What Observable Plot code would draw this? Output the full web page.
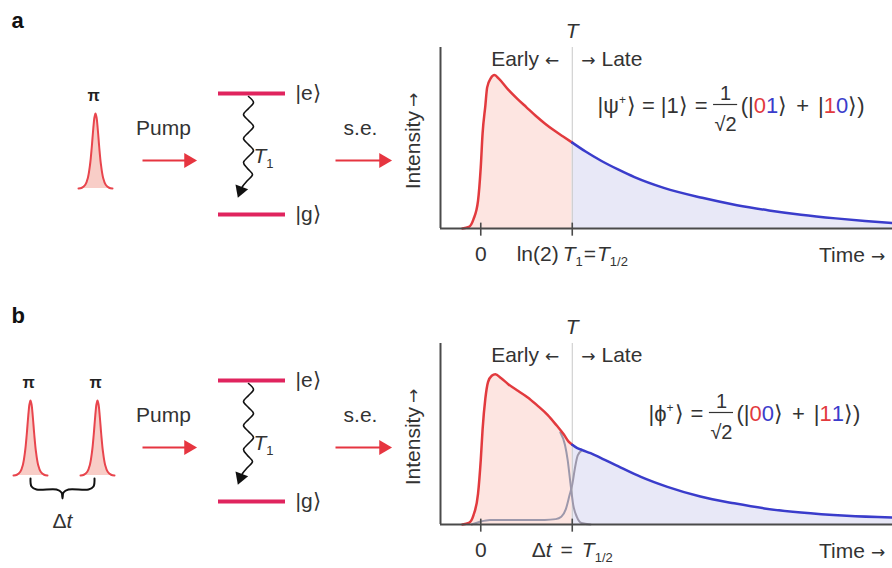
<!DOCTYPE html>
<html><head><meta charset="utf-8">
<script src="https://cdn.jsdelivr.net/npm/d3@7"></script>
<script src="https://cdn.jsdelivr.net/npm/@observablehq/plot@0.6"></script>
<style>
body{margin:0;background:#fff;}
#fig{position:relative;width:892px;height:568px;overflow:hidden;background:#fff;}
#fig > div{position:absolute;}
</style></head><body><div id="fig"></div>
<script>
// ---------- DATA ----------
// Panel a: emission intensity vs time (time in units of T1/2, intensity normalised to peak)
const earlyA = [[-0.2,0],[-0.13,0.01],[-0.08,0.06],[-0.03,0.18],[0.0,0.40],[0.02,0.62],[0.05,0.80],[0.07,0.92],[0.11,0.98],[0.15,1.0],[0.2,0.975],[0.3,0.905],[0.4,0.845],[0.5,0.79],[0.6,0.735],[0.7,0.685],[0.8,0.64],[0.9,0.6],[1.0,0.56]];
const lateA  = [[1.0,0.56],[1.15,0.5],[1.32,0.44],[1.5,0.385],[1.68,0.335],[2.0,0.265],[2.42,0.2],[2.8,0.152],[3.15,0.118],[3.5,0.09],[3.88,0.066],[4.2,0.049],[4.5,0.036]];
// Panel b
const earlyB = [[-0.2,0],[-0.13,0.01],[-0.08,0.06],[-0.03,0.2],[0.0,0.42],[0.02,0.62],[0.05,0.82],[0.08,0.93],[0.12,0.97],[0.16,0.98],[0.22,0.955],[0.3,0.915],[0.41,0.87],[0.51,0.83],[0.62,0.775],[0.73,0.715],[0.83,0.645],[0.91,0.585],[0.96,0.54],[1.0,0.52]];
const lateB  = [[1.0,0.52],[1.05,0.5],[1.11,0.485],[1.2,0.465],[1.31,0.435],[1.5,0.38],[1.75,0.31],[2.04,0.245],[2.4,0.182],[2.77,0.138],[3.1,0.105],[3.5,0.078],[4.0,0.057],[4.5,0.045]];
const earlyTailB = [[0.87,0.6],[0.92,0.52],[0.95,0.42],[0.98,0.27],[1.01,0.13],[1.05,0.05],[1.1,0.01],[1.2,0]];
const lateRiseB  = [[-0.1,0],[0.0,0.02],[0.1,0.03],[0.4,0.03],[0.7,0.03],[0.82,0.035],[0.88,0.05],[0.93,0.1],[0.97,0.19],[1.0,0.26],[1.03,0.37],[1.06,0.45],[1.11,0.485]];
const tickTimes = [0, 1];
// Schematic shapes
const pulseProfile = [[-1,0],[-0.8,0.01],[-0.6,0.05],[-0.45,0.14],[-0.32,0.32],[-0.22,0.55],[-0.13,0.8],[-0.06,0.95],[0,1],[0.06,0.95],[0.13,0.8],[0.22,0.55],[0.32,0.32],[0.45,0.14],[0.6,0.05],[0.8,0.01],[1,0]];
const wavePath = [[0,0],[5,6],[0,12],[-5,18],[0,24],[5,30],[0,36],[-5,42],[0,48],[5,54],[0,60],[-5,66],[-1,72],[4,78],[-1,84],[-6,90],[-8,95]];
const braceShape = [[-32,-11],[-31,-3],[-26,0],[-6,0],[-1,3],[0,9],[1,3],[6,0],[26,0],[31,-3],[32,-11]];

// ---------- STYLE ----------
const FONT = '"Liberation Sans", Arial, sans-serif';
const ARR = '"DejaVu Sans", sans-serif';
const INK = "#333", AXIS = "#4a4a4a";
const RED = "#e23a3e", BLUE = "#3a3ccb", PINK = "#fde5e1", LAV = "#e8e8f7", GRAY = "#9d98ab", LEVEL = "#e0245e", ARROW = "#e63540";
const XMIN = -0.44, XMAX = 4.5, YMAX = 1.18, T = 1;

const ctx = document.createElement("canvas").getContext("2d");
function measure(s, size, italic, family) { ctx.font = `${italic ? "italic " : ""}${size}px ${family || FONT}`; return ctx.measureText(s).width; }
function txt(s, x, y, o = {}) {
  return Plot.text([s], {x, y, dx: o.dx || 0, dy: o.dy || 0, textAnchor: o.anchor || "start", lineAnchor: o.line || "bottom",
    fontSize: o.size || 20, fontStyle: o.italic ? "italic" : "normal", fontWeight: o.weight || "normal", fill: o.fill || INK,
    fontFamily: o.family || FONT, rotate: o.rotate || 0});
}
// lay out a run of text segments (baseline-aligned) starting / centred / ending at (x, y)
function segMarks(segs, x, y, align = "start", base = {}) {
  const items = segs.map(s => s.frac
    ? {...s, w: Math.max(measure(s.num, s.size), measure(s.den, s.size)) + 2}
    : {...s, w: measure(s.t, s.size || base.size || 20, s.italic, s.family)});
  const total = d3.sum(items, d => d.w + (d.gap || 0));
  let off = (base.dx || 0) + (align === "middle" ? -total / 2 : align === "end" ? -total : 0);
  const marks = [];
  for (const s of items) {
    off += s.gap || 0;
    if (s.frac) {
      marks.push(txt(s.num, x, y, {dx: off + s.w / 2, dy: s.numDy, size: s.size, anchor: "middle"}));
      marks.push(txt(s.den, x, y, {dx: off + s.w / 2, dy: s.denDy, size: s.size, anchor: "middle"}));
      marks.push(Plot.ruleY([y + s.barDy], {x1: x + off, x2: x + off + s.w, stroke: INK, strokeWidth: 1.2}));
    } else {
      marks.push(txt(s.t, x, y, {dx: off, dy: (s.dy || 0) + (base.dy || 0), size: s.size || base.size || 20, italic: s.italic, fill: s.fill, family: s.family}));
    }
    off += s.w;
  }
  return marks;
}

// ---------- CHARTS ----------
const SUB = 13;
function chartPlot(cfg) {
  const xy = {x: d => d[0], y: d => d[1], curve: "monotone-x"};
  const wI = measure("Intensity", 21), wA = measure("→", 17, false, ARR), gapI = 4;
  const marks = [
    Plot.areaY(cfg.early, {...xy, fill: PINK}),
    Plot.areaY(cfg.late, {...xy, fill: LAV}),
    Plot.ruleX([T], {y1: 0, y2: YMAX, stroke: "#c8c8c8", strokeWidth: 1}),
    ...cfg.gray.map(g => Plot.line(g, {...xy, stroke: GRAY, strokeWidth: 2})),
    Plot.line(cfg.early, {...xy, stroke: RED, strokeWidth: 2.5}),
    Plot.line(cfg.late, {...xy, stroke: BLUE, strokeWidth: 2.5}),
    Plot.ruleY([0], {x1: XMIN, x2: XMAX, stroke: AXIS, strokeWidth: 2}),
    Plot.ruleX([XMIN], {y1: 0, y2: YMAX, stroke: AXIS, strokeWidth: 2}),
    Plot.ruleX(tickTimes, {y1: -0.05, y2: 0.035, stroke: AXIS, strokeWidth: 1.6}),
    txt("T", T, YMAX, {dy: -10, size: 21, italic: true, anchor: "middle"}),
    ...segMarks([{t: "Early"}, {t: "←", family: ARR, size: 17, gap: 6}], T, YMAX, "end", {dx: -13, dy: 18, size: 21}),
    ...segMarks([{t: "→", family: ARR, size: 17}, {t: "Late", gap: 6}], T, YMAX, "start", {dx: 9, dy: 18, size: 21}),
    txt("Intensity", XMIN, 0.57, {dx: -27, dy: (wA + gapI) / 2, anchor: "middle", line: "middle", rotate: -90, size: 21}),
    txt("→", XMIN, 0.57, {dx: -27, dy: -(wI + gapI) / 2, anchor: "middle", line: "middle", rotate: -90, size: 17, family: ARR}),
    txt("0", 0, 0, {dy: 32, anchor: "middle", size: 21}),
    ...segMarks([{t: "Time"}, {t: "→", family: ARR, size: 17, gap: 6}], 4.42, 0, "end", {dy: 33, size: 21}),
    ...segMarks(cfg.tickSegs, T, 0, "middle", {dy: 32, size: 21})
  ];
  return Plot.plot({width: 497, height: 270, marginLeft: 45, marginRight: 0, marginTop: 47, marginBottom: 42,
    x: {domain: [XMIN, XMAX], axis: null}, y: {domain: [0, YMAX], axis: null},
    style: {background: "transparent", overflow: "visible", fontFamily: FONT}, marks});
}
const tickSegsA = [{t: "ln(2)"}, {t: "T", italic: true, gap: 4}, {t: "1", size: SUB, dy: 5}, {t: "=", gap: 1}, {t: "T", italic: true, gap: 1}, {t: "1/2", size: SUB, dy: 5}];
const tickSegsB = [{t: "Δ"}, {t: "t", italic: true}, {t: "=", gap: 9}, {t: "T", italic: true, gap: 9}, {t: "1/2", size: SUB, dy: 5}];

// ---------- SCHEMATIC + FORMULAS (overlay, pixel units) ----------
const rows = [{oy: 0, pulses: [95]}, {oy: 287, pulses: [30, 97]}];
const ov = [];
ov.push(txt("a", 11, 27, {size: 22, weight: "bold", fill: "#111"}));
ov.push(txt("b", 11, 322, {size: 22, weight: "bold", fill: "#111"}));
for (const r of rows) {
  const oy = r.oy;
  for (const cx of r.pulses) {
    const pts = pulseProfile.map(([u, h]) => ({x: cx + u * 17, y: 188 + oy - h * 75}));
    ov.push(Plot.area(pts, {x1: "x", y1: 188 + oy, y2: "y", fill: "#f8cdc7", curve: "catmull-rom"}));
    ov.push(Plot.line(pts, {x: "x", y: "y", stroke: "#e8454d", strokeWidth: 2, curve: "catmull-rom"}));
    ov.push(txt("π", cx - 2, 95 + oy, {size: 16, anchor: "middle", line: "middle", fill: "#222", weight: "bold"}));
  }
  ov.push(txt("Pump", 163, 128 + oy, {anchor: "middle", line: "middle", size: 21}));
  ov.push(txt("s.e.", 360, 128 + oy, {anchor: "middle", line: "middle", size: 21}));
  for (const [x1, x2] of [[142, 186], [335, 381]]) {
    ov.push(Plot.link([0], {x1, x2, y1: 160 + oy, y2: 160 + oy, stroke: ARROW, strokeWidth: 2.2}));
    ov.push(Plot.dot([0], {x: x2 + 2, y: 160 + oy, symbol: "triangle", r: 5.5, rotate: 90, fill: ARROW, stroke: "none"}));
  }
  for (const ly of [93, 214]) ov.push(Plot.ruleY([ly + oy], {x1: 218, x2: 285, stroke: LEVEL, strokeWidth: 4}));
  ov.push(txt("|e⟩", 295, 93 + oy, {line: "middle", size: 21}));
  ov.push(txt("|g⟩", 295, 214 + oy, {line: "middle", size: 21}));
  const wave = wavePath.map(([dx, dy]) => ({x: 248 + dx, y: 96 + oy + dy}));
  ov.push(Plot.line(wave, {x: "x", y: "y", stroke: "#111", strokeWidth: 1.6, curve: "catmull-rom"}));
  ov.push(Plot.dot([0], {x: 240, y: 190 + oy, symbol: "triangle", r: 5, rotate: 200, fill: "#111", stroke: "none"}));
  ov.push(...segMarks([{t: "T", italic: true, size: 21}, {t: "1", size: SUB, dy: 5}], 253, 162 + oy));
}
// brace + Δt (panel b)
ov.push(Plot.line(braceShape.map(([dx, dy]) => ({x: 62 + dx, y: 489 + dy})), {x: "x", y: "y", stroke: "#111", strokeWidth: 2, curve: "catmull-rom"}));
ov.push(...segMarks([{t: "Δ"}, {t: "t", italic: true}], 62, 527, "middle", {size: 21}));
// formulas
const frac = {frac: true, num: "1", den: "√2", size: 20, numDy: -13, denDy: 18, barDy: -8, gap: 6};
const F = {size: 22};
ov.push(...segMarks([{t: "|ψ"}, {t: "+", size: 12, dy: -9}, {t: "⟩", gap: 1}, {t: "=", gap: 6}, {t: "|1⟩", gap: 6}, {t: "=", gap: 7}, frac,
  {t: "(|", gap: 3}, {t: "0", fill: RED}, {t: "1", fill: BLUE}, {t: "⟩"}, {t: "+", gap: 9}, {t: "|", gap: 9}, {t: "1", fill: RED}, {t: "0", fill: BLUE}, {t: "⟩)"}], 597, 112, "start", F));
ov.push(...segMarks([{t: "|ϕ"}, {t: "+", size: 12, dy: -9}, {t: "⟩", gap: 1}, {t: "=", gap: 7}, frac,
  {t: "(|", gap: 3}, {t: "0", fill: RED}, {t: "0", fill: BLUE}, {t: "⟩"}, {t: "+", gap: 9}, {t: "|", gap: 9}, {t: "1", fill: RED}, {t: "1", fill: BLUE}, {t: "⟩)"}], 648, 420, "start", F));

// ---------- ASSEMBLE ----------
const fig = document.getElementById("fig");
function place(node, left, top) { const d = document.createElement("div"); d.style.left = left + "px"; d.style.top = top + "px"; d.appendChild(node); fig.appendChild(d); }
place(chartPlot({early: earlyA, late: lateA, gray: [], tickSegs: tickSegsA}), 395, 0);
place(chartPlot({early: earlyB, late: lateB, gray: [earlyTailB, lateRiseB], tickSegs: tickSegsB}), 395, 296);
const overlay = Plot.plot({width: 892, height: 568, margin: 0,
  x: {domain: [0, 892], range: [0, 892], axis: null}, y: {domain: [0, 568], range: [0, 568], axis: null},
  style: {background: "transparent", overflow: "visible", fontFamily: FONT}, marks: ov});
overlay.style.pointerEvents = "none";
place(overlay, 0, 0);
</script></body></html>
